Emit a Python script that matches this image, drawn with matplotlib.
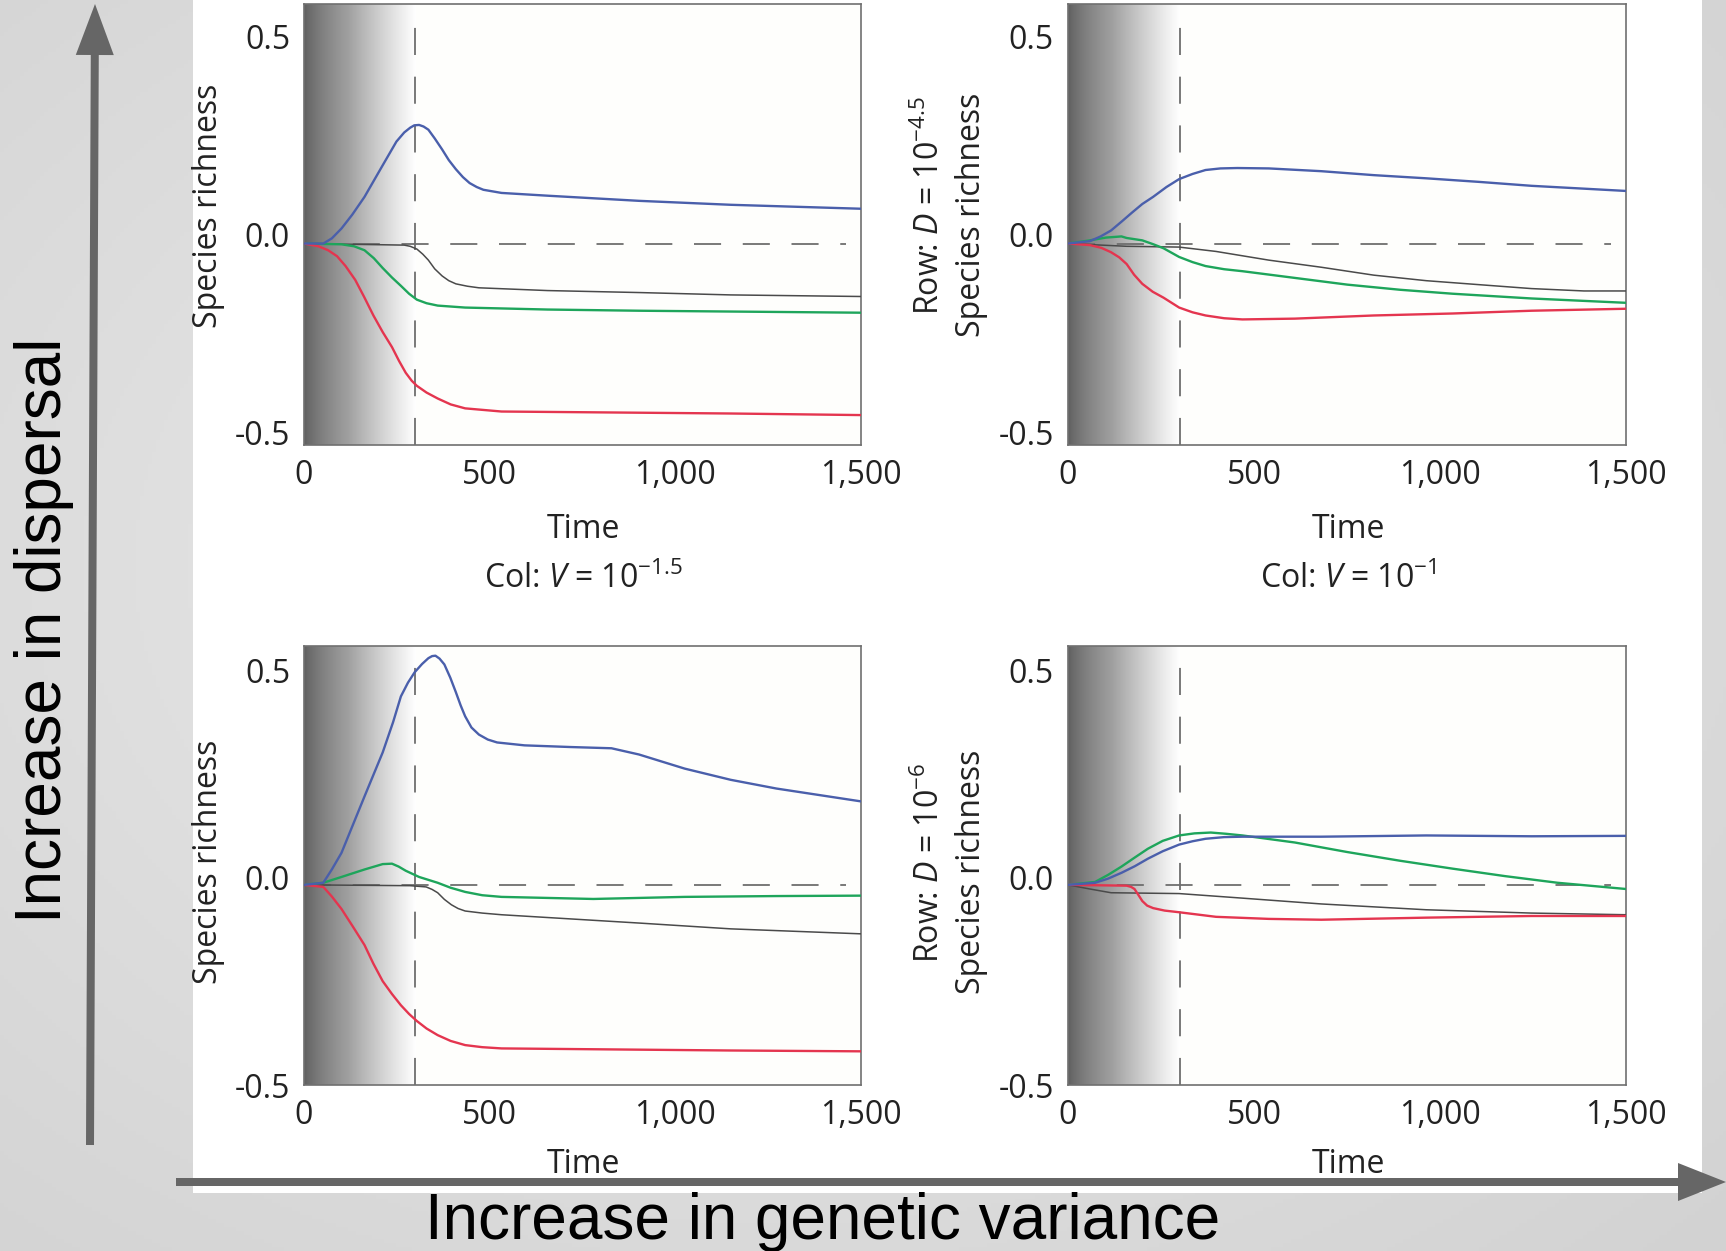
import numpy as np
import matplotlib
matplotlib.use("Agg")
import matplotlib.pyplot as plt
from matplotlib.colors import LinearSegmentedColormap
from matplotlib.patches import Rectangle, FancyArrow

plt.rcParams['font.family'] = ['Open Sans', 'DejaVu Sans']
plt.rcParams['mathtext.fontset'] = 'custom'
plt.rcParams['mathtext.rm'] = 'Open Sans'
plt.rcParams['mathtext.it'] = 'Open Sans:italic'

# (time, change in species richness)
tl_blue = [(0, -0.023), (52, -0.023), (75, -0.01), (101, 0.015), (130, 0.05), (163, 0.095),
           (212, 0.175), (249, 0.235), (270, 0.258), (286, 0.27), (297, 0.276), (310, 0.277),
           (322, 0.273), (335, 0.265), (352, 0.243), (372, 0.215), (390, 0.188), (409, 0.165),
           (428, 0.145), (446, 0.13), (465, 0.12), (483, 0.113), (532, 0.105), (656, 0.098),
           (902, 0.085), (1149, 0.075), (1500, 0.065)]
tl_black = [(0, -0.023), (270, -0.027), (286, -0.03), (304, -0.037), (320, -0.05), (335, -0.065),
            (352, -0.087), (372, -0.105), (390, -0.117), (409, -0.125), (440, -0.131), (471, -0.135),
            (656, -0.142), (902, -0.147), (1149, -0.153), (1500, -0.157)]
tl_green = [(0, -0.023), (101, -0.025), (135, -0.03), (163, -0.04), (188, -0.06), (212, -0.085),
            (237, -0.109), (261, -0.13), (283, -0.15), (304, -0.165), (330, -0.174), (360, -0.18),
            (434, -0.185), (656, -0.19), (902, -0.193), (1500, -0.198)]
tl_red = [(0, -0.023), (39, -0.03), (65, -0.04), (89, -0.055), (112, -0.08), (138, -0.115),
          (162, -0.158), (187, -0.205), (212, -0.247), (237, -0.285), (256, -0.32), (274, -0.35),
          (290, -0.37), (304, -0.383), (330, -0.4), (360, -0.415), (395, -0.43), (434, -0.44),
          (532, -0.448), (779, -0.45), (1149, -0.453), (1500, -0.457)]

tr_blue = [(0, -0.023), (59, -0.017), (88, -0.005), (116, 0.01), (145, 0.033), (172, 0.055),
           (200, 0.077), (229, 0.095), (265, 0.12), (299, 0.14), (335, 0.153), (370, 0.163),
           (410, 0.167), (455, 0.168), (540, 0.167), (681, 0.16), (822, 0.15), (963, 0.142),
           (1104, 0.133), (1246, 0.123), (1500, 0.11)]
tr_black = [(0, -0.023), (158, -0.03), (299, -0.032), (398, -0.043), (540, -0.065), (681, -0.083),
            (822, -0.103), (963, -0.117), (1104, -0.127), (1246, -0.137), (1387, -0.143), (1500, -0.143)]
tr_green = [(0, -0.023), (59, -0.015), (102, -0.008), (144, -0.005), (158, -0.009), (200, -0.015),
            (230, -0.025), (257, -0.035), (299, -0.057), (335, -0.07), (370, -0.08), (420, -0.088),
            (469, -0.093), (610, -0.11), (751, -0.127), (893, -0.14), (1034, -0.15), (1246, -0.162),
            (1500, -0.173)]
tr_red = [(0, -0.023), (59, -0.027), (90, -0.034), (116, -0.045), (138, -0.058), (158, -0.075),
          (178, -0.102), (200, -0.125), (228, -0.145), (257, -0.16), (299, -0.185), (335, -0.197),
          (370, -0.205), (420, -0.212), (469, -0.215), (610, -0.213), (822, -0.205), (1034, -0.2),
          (1246, -0.193), (1500, -0.188)]

bl_blue = [(0, -0.017), (52, -0.012), (75, 0.02), (101, 0.06), (132, 0.128), (163, 0.196),
           (212, 0.302), (240, 0.375), (261, 0.437), (280, 0.47), (298, 0.495), (318, 0.515),
           (335, 0.529), (345, 0.534), (354, 0.535), (365, 0.528), (378, 0.514), (394, 0.482),
           (409, 0.447), (422, 0.415), (434, 0.389), (451, 0.362), (471, 0.345), (495, 0.333),
           (520, 0.326), (594, 0.319), (717, 0.315), (828, 0.312), (902, 0.297), (1025, 0.263),
           (1149, 0.236), (1272, 0.215), (1500, 0.184)]
bl_black = [(0, -0.017), (286, -0.019), (329, -0.022), (345, -0.028), (360, -0.036), (378, -0.052),
            (397, -0.065), (415, -0.074), (434, -0.08), (480, -0.085), (532, -0.089), (717, -0.099),
            (902, -0.109), (1149, -0.123), (1500, -0.135)]
bl_green = [(0, -0.017), (52, -0.012), (101, 0.002), (163, 0.02), (212, 0.033), (237, 0.034),
            (255, 0.027), (274, 0.017), (310, 0.002), (360, -0.012), (395, -0.024), (434, -0.034),
            (480, -0.042), (532, -0.046), (779, -0.051), (1025, -0.046), (1272, -0.044), (1500, -0.043)]
bl_red = [(0, -0.017), (52, -0.022), (75, -0.045), (101, -0.075), (132, -0.118), (163, -0.162),
          (187, -0.207), (212, -0.249), (237, -0.28), (261, -0.307), (283, -0.328), (304, -0.345),
          (330, -0.363), (360, -0.379), (395, -0.393), (434, -0.403), (480, -0.408), (532, -0.411),
          (779, -0.413), (1149, -0.416), (1500, -0.418)]

br_blue = [(0, -0.017), (73, -0.012), (108, -0.002), (144, 0.012), (180, 0.028), (215, 0.046),
           (255, 0.064), (299, 0.08), (335, 0.088), (370, 0.094), (420, 0.098), (469, 0.099),
           (681, 0.099), (963, 0.102), (1246, 0.1), (1500, 0.101)]
br_black = [(0, -0.017), (59, -0.027), (116, -0.036), (299, -0.038), (469, -0.049), (681, -0.063),
            (963, -0.077), (1246, -0.085), (1500, -0.089)]
br_green = [(0, -0.017), (73, -0.01), (108, 0.007), (144, 0.027), (180, 0.049), (215, 0.07),
            (255, 0.089), (299, 0.102), (340, 0.107), (384, 0.109), (425, 0.106), (469, 0.102),
            (610, 0.085), (751, 0.062), (893, 0.041), (1034, 0.022), (1175, 0.004), (1316, -0.012),
            (1500, -0.027)]
br_red = [(0, -0.017), (158, -0.019), (170, -0.022), (179, -0.027), (190, -0.042), (200, -0.056),
          (213, -0.067), (229, -0.073), (260, -0.079), (299, -0.083), (398, -0.094), (540, -0.099),
          (681, -0.101), (963, -0.096), (1246, -0.092), (1500, -0.092)]

x_ticks = [0, 500, 1000, 1500]
x_ticklabels = ['0', '500', '1,000', '1,500']
y_ticks = [-0.5, 0.0, 0.5]
y_ticklabels = ['-0.5', '0.0', '0.5']
t_switch = 300  # end of the shaded period

col_labels = [r'Col: $\mathit{V}$ = 10$^{-1.5}$', r'Col: $\mathit{V}$ = 10$^{-1}$']
row_labels = [r'Row: $\mathit{D}$ = 10$^{-4.5}$', r'Row: $\mathit{D}$ = 10$^{-6}$']

colors = {'black': '#4a4a4a', 'green': '#1ea55b', 'red': '#e4354f', 'blue': '#4a5fab'}

W, H = 1726, 1251
fig = plt.figure(figsize=(W / 100, H / 100), dpi=100)

# background: grey slide with a white area behind the panels
bg = fig.add_axes([0, 0, 1, 1], zorder=0)
bg.set_xlim(0, W)
bg.set_ylim(H, 0)
bg.axis('off')
yy, xx = np.mgrid[0:H:4, 0:W:4]
r = np.hypot((xx - W * 0.45) / W, (yy - H * 0.45) / H)
bg.imshow(r, cmap=LinearSegmentedColormap.from_list('bgc', ['#ebebeb', '#d2d2d2']),
          extent=[0, W, H, 0], aspect='auto', zorder=0)
bg.add_patch(Rectangle((193, 0), 1509, 1193, facecolor='white', edgecolor='none', zorder=1))

shade = LinearSegmentedColormap.from_list('shade', ['#5e5e5e', '#a0a0a0', '#ffffff'])

panels = [
    ([0.1761, 0.6445, 0.3228, 0.3520], (-0.532, 0.582), [tl_black, tl_green, tl_red, tl_blue], 0, None),
    ([0.6187, 0.6445, 0.3234, 0.3520], (-0.532, 0.582), [tr_black, tr_green, tr_red, tr_blue], 1, 0),
    ([0.1761, 0.1324, 0.3228, 0.3511], (-0.500, 0.558), [bl_black, bl_green, bl_red, bl_blue], None, None),
    ([0.6187, 0.1324, 0.3234, 0.3511], (-0.500, 0.558), [br_black, br_green, br_red, br_blue], None, 1),
]
species_y = [0.5425, 0.523, 0.509, 0.486]

for i, (rect, ylim, series, col_idx, row_idx) in enumerate(panels):
    ax = fig.add_axes(rect, zorder=2)
    ax.set_facecolor('#fefefc')
    ax.set_xlim(0, 1500)
    ax.set_ylim(*ylim)
    grad = np.linspace(0, 1, 256)[None, :] ** 0.75
    ax.imshow(grad, cmap=shade, extent=[0, t_switch, ylim[0], ylim[1]], aspect='auto', zorder=0)
    base = series[0][0][1]
    ax.plot([0, 1460], [base, base], color='#6e6e6e', lw=1.3, ls=(0, (15, 12)), zorder=1)
    ax.plot([t_switch, t_switch], [ylim[0], ylim[1] - 0.04], color='#6e6e6e', lw=1.3,
            ls=(0, (15, 12)), zorder=1)
    for name, pts in zip(['black', 'green', 'red', 'blue'], series):
        t = [p[0] for p in pts]
        v = [p[1] for p in pts]
        ax.plot(t, v, color=colors[name], lw=1.1 if name == 'black' else 1.7, zorder=3,
                solid_joinstyle='round')
    ax.set_xticks(x_ticks, x_ticklabels)
    ax.set_yticks(y_ticks, y_ticklabels)
    ax.tick_params(length=0, labelsize=23, colors='#222222')
    ax.tick_params(axis='y', pad=10)
    ax.tick_params(axis='x', pad=10)
    for s in ax.spines.values():
        s.set_color('#707070')
        s.set_linewidth(1.2)
    top = i < 2
    ax.text(0.502, -0.193 if top else -0.18, 'Time', transform=ax.transAxes,
            ha='center', va='center', fontsize=23, color='#222222')
    if col_idx is not None:
        ax.text(0.502, -0.305, col_labels[col_idx], transform=ax.transAxes,
                ha='center', va='center', fontsize=23, color='#222222')
    ax.text(-0.172, species_y[i], 'Species richness', transform=ax.transAxes, rotation=90,
            ha='center', va='center', fontsize=23, color='#222222')
    if row_idx is not None:
        ax.text(-0.247, species_y[i] + 0.02, row_labels[row_idx], transform=ax.transAxes,
                rotation=90, ha='center', va='center', fontsize=23, color='#222222')

# foreground: the two big arrows and their captions
fg = fig.add_axes([0, 0, 1, 1], zorder=5)
fg.set_xlim(0, W)
fg.set_ylim(H, 0)
fg.axis('off')
fg.patch.set_alpha(0)
fg.add_patch(FancyArrow(90, 1145, 5, -1141, width=8, head_width=38, head_length=51,
                        length_includes_head=True, color='#666666', lw=0))
fg.add_patch(FancyArrow(176, 1182, 1550, 0, width=8, head_width=38, head_length=48,
                        length_includes_head=True, color='#666666', lw=0))
fg.text(44, 630, 'Increase in dispersal', rotation=90, ha='center', va='center',
        fontsize=46, family=['Liberation Sans', 'DejaVu Sans'], color='black')
fg.text(823, 1222, 'Increase in genetic variance', ha='center', va='center',
        fontsize=46, family=['Liberation Sans', 'DejaVu Sans'], color='black')

fig.savefig('out.png', dpi=100)
